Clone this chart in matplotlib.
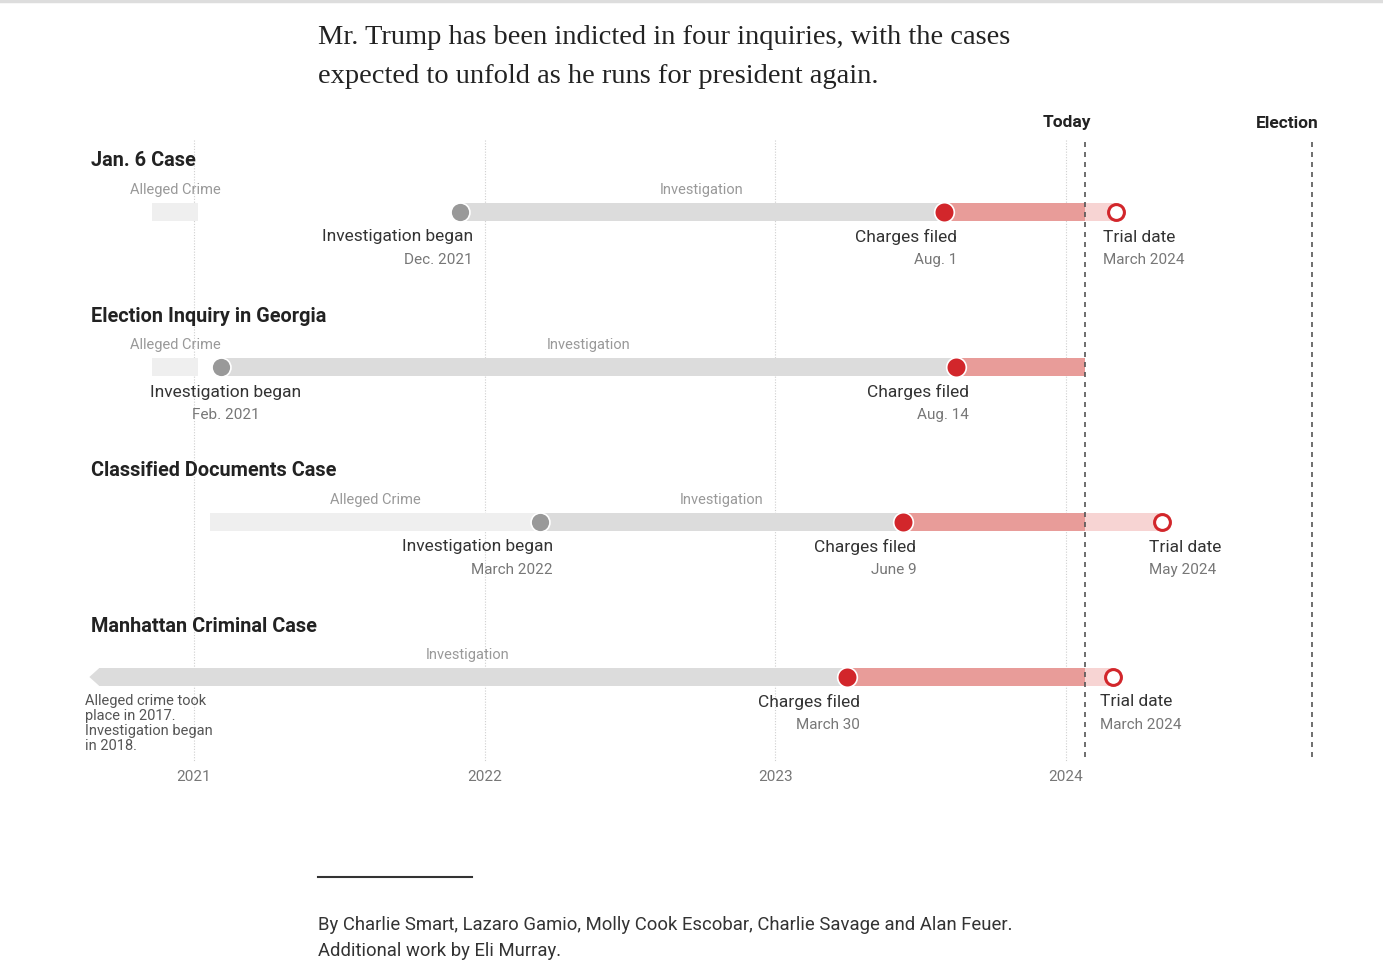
import matplotlib
matplotlib.use("Agg")
import matplotlib.pyplot as plt
from matplotlib import font_manager
from matplotlib.patches import Polygon

# ---- data (dates as decimal years) ----
cases = ["Jan. 6 Case", "Election Inquiry in Georgia",
         "Classified Documents Case", "Manhattan Criminal Case"]
crime_start = [2020.855, 2020.855, 2021.055, None]
crime_end = [2021.014, 2021.014, 2022.19, None]
inv_start = [2021.915, 2021.093, 2022.19, 2020.64]
charged = [2023.58, 2023.62, 2023.44, 2023.245]
trial = [2024.17, None, 2024.33, 2024.16]
inv_label = ["Dec. 2021", "Feb. 2021", "March 2022", None]
charge_label = ["Aug. 1", "Aug. 14", "June 9", "March 30"]
trial_label = ["March 2024", None, "May 2024", "March 2024"]
years = [2021, 2022, 2023, 2024]
today = 2024.065
election = 2024.847

title = ("Mr. Trump has been indicted in four inquiries, with the cases\n"
         "expected to unfold as he runs for president again.")
credit = ("By Charlie Smart, Lazaro Gamio, Molly Cook Escobar, Charlie Savage and Alan Feuer.\n"
          "Additional work by Eli Murray.")
manhattan_note = "Alleged crime took\nplace in 2017.\nInvestigation began\nin 2018."

# ---- fonts ----
have = {f.name for f in font_manager.fontManager.ttflist}
sans = next((f for f in ["Roboto", "Liberation Sans", "DejaVu Sans"] if f in have), "DejaVu Sans")
serif = next((f for f in ["Liberation Serif", "DejaVu Serif"] if f in have), "DejaVu Serif")
plt.rcParams["font.family"] = [sans, "DejaVu Sans"]

# colours
C_CRIME = "#efefef"
C_INV = "#dcdcdc"
C_RED = "#e89c99"
C_PINK = "#f7d4d3"
C_DOT_GRAY = "#999999"
C_DOT_RED = "#d2262b"

W, H = 1383, 976
PPY = 290.7          # pixels per year
X0 = 194             # pixel position of 2021
px = 1.0 / PPY

fig = plt.figure(figsize=(W / 100, H / 100), dpi=100)
ax = fig.add_axes([0, 0, 1, 1])
ax.set_xlim(2021 - X0 / PPY, 2021 + (W - X0) / PPY)
ax.set_ylim(H, 0)
ax.axis("off")

# thin rule at very top
ax.plot([ax.get_xlim()[0], ax.get_xlim()[1]], [1, 1], color="#dddddd", lw=2.5)

# title
ax.text(2021 + (318 - X0) * px, 57, title, family=[serif, "DejaVu Serif"],
        fontsize=20.5, color="#222222", va="center", ha="left", linespacing=1.72)

# grid lines
top, bot = 140, 762
for y in years:
    ax.plot([y, y], [top, bot], color="#cfcfcf", lw=0.8, ls=(0, (1, 1.5)), zorder=0)
    ax.text(y, 777, str(y), ha="center", va="center", fontsize=11, color="#777777")
for x, lab in [(today, "Today"), (election, "Election")]:
    ax.plot([x, x], [top + 2, bot], color="#555555", lw=1.2, ls=(0, (3, 3)), zorder=4)
    ax.text(x + 6 * px, 123, lab, ha="right", va="center", fontsize=12.5,
            fontweight="bold", color="#222222")

bar_h = 18
for i, name in enumerate(cases):
    yb = 212 + 155 * i
    ax.text(2021 + (91 - X0) * px, yb - 51, name, ha="left", va="center",
            fontsize=14.3, fontweight="bold", color="#222222")

    # alleged crime segment
    if crime_start[i] is not None:
        ax.barh(yb, crime_end[i] - crime_start[i], left=crime_start[i], height=bar_h,
                color=C_CRIME, zorder=1)
        ax.text((crime_start[i] + crime_end[i]) / 2, yb - 22, "Alleged Crime",
                ha="center", va="center", fontsize=10.5, color="#999999")

    # investigation segment
    if crime_start[i] is None:
        ax.barh(yb, charged[i] - inv_start[i] - 10 * px, left=inv_start[i] + 10 * px,
                height=bar_h, color=C_INV, zorder=1)
        ax.add_patch(Polygon([[inv_start[i], yb], [inv_start[i] + 10 * px, yb - bar_h / 2],
                              [inv_start[i] + 10 * px, yb + bar_h / 2]],
                             closed=True, color=C_INV, lw=0, zorder=1))
    else:
        ax.barh(yb, charged[i] - inv_start[i], left=inv_start[i], height=bar_h,
                color=C_INV, zorder=1)
    ax.text((inv_start[i] + charged[i]) / 2, yb - 22, "Investigation",
            ha="center", va="center", fontsize=10.5, color="#999999")

    # charged -> today
    ax.barh(yb, today - charged[i], left=charged[i], height=bar_h, color=C_RED, zorder=1)
    if trial[i] is not None:
        ax.barh(yb, trial[i] - today, left=today, height=bar_h, color=C_PINK, zorder=1)
        ax.scatter([trial[i]], [yb], s=130, facecolor="white", edgecolor=C_DOT_RED,
                   linewidth=2.2, zorder=5)
        ax.text(trial[i] - 13 * px, yb + 25, "Trial date", ha="left", va="center",
                fontsize=12.5, color="#333333")
        ax.text(trial[i] - 13 * px, yb + 48, trial_label[i], ha="left", va="center",
                fontsize=11, color="#777777")

    # investigation began dot
    if inv_label[i] is not None:
        ax.scatter([inv_start[i]], [yb], s=185, facecolor=C_DOT_GRAY, edgecolor="white",
                   linewidth=1.2, zorder=5)
        if i == 1:
            xl, ha = inv_start[i] + 5 * px, "center"
        else:
            xl, ha = inv_start[i] + 13 * px, "right"
        ax.text(xl, yb + 25, "Investigation began", ha=ha, va="center",
                fontsize=12.5, color="#333333")
        ax.text(xl, yb + 48, inv_label[i], ha=ha, va="center",
                fontsize=11, color="#777777")

    # charges filed dot
    ax.scatter([charged[i]], [yb], s=200, facecolor=C_DOT_RED, edgecolor="white",
               linewidth=1.2, zorder=5)
    ax.text(charged[i] + 13 * px, yb + 25, "Charges filed", ha="right", va="center",
            fontsize=12.5, color="#333333")
    ax.text(charged[i] + 13 * px, yb + 48, charge_label[i], ha="right", va="center",
            fontsize=11, color="#777777")

ax.text(2021 + (85 - X0) * px, 694, manhattan_note, ha="left", va="top",
        fontsize=10.5, color="#555555", linespacing=1.1)

# footer
ax.plot([2021 + (318 - X0) * px, 2021 + (472 - X0) * px], [877, 877], color="#333333", lw=1.5)
ax.text(2021 + (318 - X0) * px, 938, credit, ha="left", va="center", fontsize=13.3,
        color="#333333", linespacing=1.57)

fig.savefig("out.png", dpi=100)
